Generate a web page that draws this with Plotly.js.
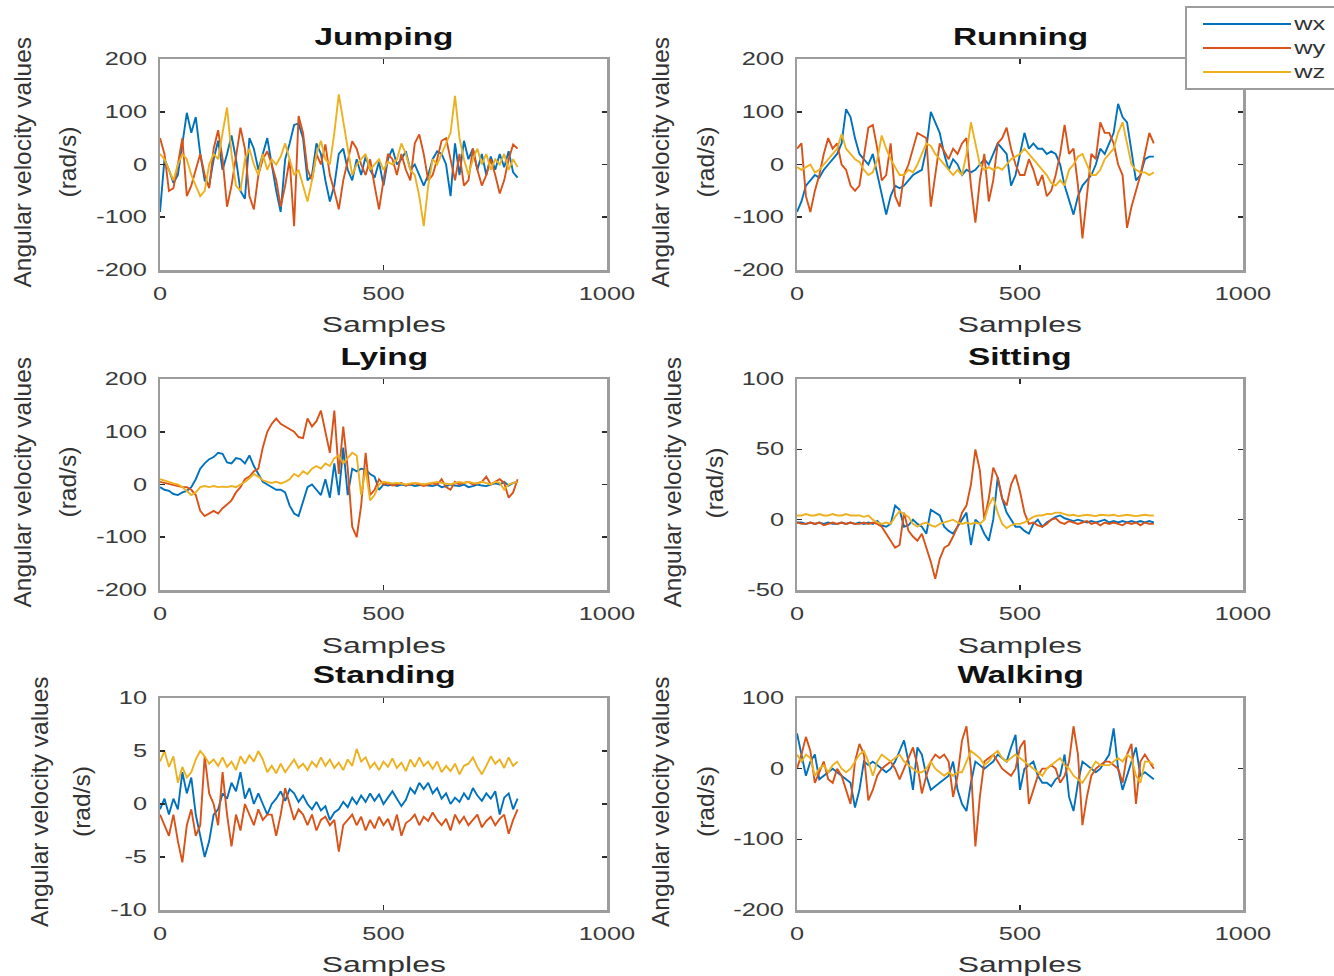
<!DOCTYPE html>
<html><head><meta charset="utf-8">
<script src="https://cdn.plot.ly/plotly-3.0.1.min.js"></script>
<style>html,body{margin:0;padding:0;background:#fff;}#chart{width:1334px;height:976px;}</style>
</head><body><div id="chart"></div>
<script>
// ---------------- data ----------------
const SAMPLES = [0,10,20,30,40,50,60,70,80,90,100,110,120,130,140,150,160,170,180,190,200,210,220,230,240,250,260,270,280,290,300,310,320,330,340,350,360,370,380,390,400,410,420,430,440,450,460,470,480,490,500,510,520,530,540,550,560,570,580,590,600,610,620,630,640,650,660,670,680,690,700,710,720,730,740,750,760,770,780,790,800];
const CHANNELS = ['wx','wy','wz'];
const ACTIVITIES = ['Jumping','Running','Lying','Sitting','Standing','Walking'];
const X_TICKS = [0,500,1000];
const Y_TICKS = {
  Jumping:[-200,-100,0,100,200], Running:[-200,-100,0,100,200], Lying:[-200,-100,0,100,200],
  Sitting:[-50,0,50,100], Standing:[-10,-5,0,5,10], Walking:[-200,-100,0,100]
};
const X_LABEL = 'Samples';
const Y_LABEL_1 = 'Angular velocity values';
const Y_LABEL_2 = '(rad/s)';

const jumping_wx = [-90,10,-10,-35,-20,40,98,60,90,20,-30,-40,10,45,-10,20,55,10,-50,-65,50,30,-10,20,50,0,-50,-90,10,40,75,78,50,-30,-20,40,20,-30,-70,-40,20,30,-10,-30,10,-20,15,-10,-25,5,-40,10,30,0,10,25,-10,0,-20,-40,-20,10,25,20,0,-60,40,-20,45,10,30,-10,20,-20,15,-10,20,-5,25,-15,-25];
const jumping_wy = [50,20,-50,-45,0,50,-60,-40,-10,20,-20,-45,30,65,10,-80,-40,20,70,30,-60,-85,-20,10,25,0,-30,-80,-40,10,-117,92,60,-10,-30,20,0,38,-20,-50,-85,-30,10,44,30,0,-20,10,-40,-85,-30,20,10,-20,20,-10,-30,40,57,20,-30,-20,10,45,50,10,-30,20,-40,-30,30,-10,-40,-20,10,-20,-55,-30,10,38,30];
const jumping_wz = [20,10,-10,-30,0,20,10,-20,-40,-60,-50,0,20,10,60,108,20,-40,-50,10,30,0,-20,20,-10,10,0,15,40,10,-20,-10,-40,-70,-30,20,45,10,0,60,133,82,30,-20,0,10,20,-10,0,10,-10,5,0,10,40,20,-10,-20,-60,-117,-40,10,0,20,40,60,130,50,10,-20,10,30,0,20,-10,10,0,20,-10,10,-5];

const running_wx = [-90,-70,-40,-30,-20,-25,-10,0,10,20,40,105,90,50,20,10,0,20,-20,-60,-95,-60,-40,-45,-40,-30,-20,-15,-10,30,100,80,60,20,-10,10,0,-20,-10,-15,-10,0,10,0,20,40,30,20,-40,-20,20,60,30,40,30,30,20,25,20,0,-40,-70,-95,-60,-40,-30,-20,0,30,20,40,60,115,90,80,20,-30,-20,10,15,15];
const running_wy = [30,40,-60,-90,-50,-20,20,50,30,40,0,-10,-40,-50,-40,20,70,75,30,-30,-20,40,-60,-80,-20,0,30,60,55,50,-80,-20,40,25,10,30,20,40,50,-40,-110,-30,20,-70,-30,40,50,70,30,0,-20,-20,10,-10,-40,-20,-60,-50,-20,20,75,20,30,-40,-140,-60,20,10,80,60,60,40,0,-20,-120,-80,-50,-20,20,60,40];
const running_wz = [-5,-10,-5,0,-15,-10,0,10,20,30,58,30,20,10,5,-10,-20,-15,10,55,30,10,-5,-20,-20,-10,-15,0,20,40,35,20,10,0,-10,-20,-10,-20,20,80,40,0,-10,-5,-10,-5,-10,0,10,15,20,30,20,10,0,-10,-20,-35,-40,-30,-40,-10,0,15,20,0,-20,-20,-10,10,20,30,60,80,40,0,-10,-15,-15,-20,-15];

const lying_wx = [-5,-10,-12,-18,-20,-15,-12,-5,10,30,40,48,52,60,58,42,40,50,48,40,55,35,20,5,0,-5,-10,-10,-15,-40,-55,-60,-30,-5,0,-10,-20,10,-25,40,-20,70,-20,30,25,30,28,20,15,-10,0,-2,0,-3,0,-2,0,-3,-2,0,-2,-3,0,-5,-3,0,-2,-3,0,-5,-3,0,-2,-3,0,2,0,5,-2,3,5];
const lying_wy = [5,3,2,0,-2,-5,-5,-10,-20,-50,-60,-55,-50,-55,-45,-38,-30,-15,-5,10,15,25,30,70,100,115,125,115,110,105,100,90,88,125,110,120,140,100,60,140,20,110,30,-80,-100,-40,60,-20,-10,10,0,2,-2,0,3,-2,0,2,0,-3,0,2,0,10,-5,-10,5,0,3,5,0,3,5,15,0,5,10,3,-25,-15,10];
const lying_wz = [10,8,5,2,0,-5,-12,-20,-15,-5,-3,-5,-3,-5,-4,-5,-3,-5,0,5,12,20,15,8,5,3,5,2,5,10,20,15,25,20,30,35,30,40,35,50,55,40,50,60,55,-20,30,-30,-20,0,5,3,2,3,2,0,2,3,2,0,2,3,5,3,2,0,3,5,3,5,3,2,5,3,0,5,3,-10,0,3,5];

const sitting_wx = [-2,-2,-3,-2,-3,-2,-3,-2,-3,-3,-2,-3,-2,-3,-2,-3,-2,-3,-1,-4,-5,-3,10,7,-5,-4,0,-3,-5,-10,7,5,3,-5,-8,-10,-5,0,5,-18,0,-3,-10,-15,0,30,15,5,0,-5,-5,-8,-10,-3,0,-5,-2,0,2,3,1,0,-1,0,-1,-2,-1,-2,-1,0,-2,-1,-2,-1,-2,-1,-2,-1,-2,-1,-2];
const sitting_wy = [-2,-3,-3,-2,-3,-2,-4,-3,-2,-3,-2,-3,-2,-3,-3,-2,-3,-2,-3,-5,-10,-15,-20,-18,5,-8,-12,-15,-10,-20,-30,-42,-28,-20,-18,-12,-5,5,10,25,50,35,0,15,37,30,15,10,25,32,20,5,-3,-2,-4,-5,-3,0,1,-2,-3,-1,-2,-3,-2,-1,-3,-2,-4,-2,-3,-2,-3,-4,-2,-3,-2,-4,-2,-3,-3];
const sitting_wz = [3,3,4,3,3,4,3,3,4,3,3,4,3,3,3,2,3,0,-2,-3,-2,-3,2,6,4,2,-3,-5,-3,-2,-4,-5,-3,-2,-1,0,-2,-3,-2,-3,-2,-3,0,10,16,5,-3,-6,-4,-3,-3,-2,0,2,3,3,4,4,5,5,4,3,3.5,2.5,3,3.5,3,2.5,3.5,3,3,3.5,2.5,3,3.5,3,2.5,3,3.5,3,3];

const standing_wx = [-0.5,0.5,-1,0.5,-0.5,3,1,2.5,-1,-3,-5,-3.5,-1,-0.5,1,0.5,2,1.2,3,0.5,1.5,0,1,0,-1,0,0.5,1.2,0.3,1.4,1,0.2,0.8,0,-0.5,0.2,-0.6,-0.2,-1.5,-0.8,-0.5,0.2,-0.3,0.6,0,0.8,0.2,1,0.3,0.9,0,0.6,1.2,0.5,-0.2,0.4,1.5,1,2,1.4,2,1,1.5,0.5,1,0,0.6,0.2,1,0.4,1.5,0.8,0.3,1,0.5,1.2,-1,0.6,1,-0.5,0.5];
const standing_wy = [-1,-2,-3,-1,-3.5,-5.5,-2,-0.5,-3,-2,4.5,1,0,-2,3,-1,-4,-1,-2.5,0,-1,-2,-0.5,-1.5,-1,-1,-3,-1,1.5,0,-1.5,-0.5,-1,-2,-1,-2.5,-1.5,-1.2,-2,-1.5,-4.5,-2,-1.5,-1,-2,-1.2,-2.5,-1.5,-2.3,-1.2,-2,-1.4,-2.5,-1,-3,-1.8,-1.5,-1,-2,-1.2,-1.6,-0.8,-1.5,-2,-1.4,-2.5,-1,-1.8,-1.2,-2,-1.5,-1,-2.2,-1.6,-1.2,-2,-1.4,-1,-2.8,-1.5,-0.5];
const standing_wz = [4,5,3.5,4.5,2,3.5,2.5,3,4.2,5,4.5,3.8,4.2,3.6,4.4,3.5,4,3.2,4.5,3.8,4.6,4,5,4.2,3,3.6,2.9,3.8,3,3.6,4.2,3.4,3.8,3.2,4,3.5,4.4,3.6,4.2,3.4,3.9,3.2,4.2,3.6,5.2,4,4.4,3.4,3.9,3.2,4,3.5,4.3,3.4,3.9,3.1,4.2,3.5,4.4,3.6,4,3.3,4,3,3.6,3.1,3.8,2.8,3.6,3.8,4.4,3.5,2.8,3.6,4.5,3.8,4.2,3.4,4.4,3.6,4];

const walking_wx = [50,20,-10,10,20,-15,-10,-5,0,-5,-10,-15,-20,-55,-30,10,5,10,5,0,-5,0,10,25,40,10,-30,30,20,-10,-30,-25,-20,-15,-10,10,-30,-50,-60,-20,10,5,0,5,10,20,15,10,30,48,-30,0,5,10,-10,-20,-20,-25,-15,-10,20,-40,-60,-20,10,5,0,-5,0,10,20,57,0,-30,-10,10,30,-10,-5,-10,-15];
const walking_wy = [0,20,45,25,-20,-5,10,-15,-20,0,-10,-30,-50,10,35,20,-45,-30,-10,0,5,10,0,-15,0,15,30,5,-35,-10,10,20,15,20,10,-40,-10,40,60,0,-110,-40,10,15,20,10,0,-5,-10,0,30,40,-50,-30,-10,0,0,5,0,-20,-10,10,60,20,-80,-40,-10,0,5,10,10,5,0,-20,20,35,-50,10,20,10,0];
const walking_wz = [20,10,20,15,-10,0,5,-5,5,10,0,-5,0,10,20,25,10,-10,10,20,15,10,15,20,10,5,0,-5,-5,0,10,0,-5,-10,-5,-10,-5,-5,10,25,20,15,5,10,20,25,15,10,15,20,15,10,5,0,-5,-10,0,5,10,15,5,0,-10,-15,-20,-10,0,10,5,5,5,10,15,10,20,15,-10,-20,10,10,5];

const SERIES = {
  Jumping:[jumping_wx,jumping_wy,jumping_wz],
  Running:[running_wx,running_wy,running_wz],
  Lying:[lying_wx,lying_wy,lying_wz],
  Sitting:[sitting_wx,sitting_wy,sitting_wz],
  Standing:[standing_wx,standing_wy,standing_wz],
  Walking:[walking_wx,walking_wy,walking_wz]
};

// ---------------- layout / style ----------------
const W = 1334, H = 976;
const COLORS = ['#0072BD','#D95319','#EDB120'];
const COL_PX = [[160,607],[797,1243]];
const ROW_PX = [[59,270],[379,590],[698,910]];
const TITLE_Y = [37,357,675];
const XLAB_Y = [325,645,964];
const YLAB_X = [[22,67],[660,705],[22,67],[672,714],[39,81],[660,705]];
const FONT = 'Liberation Sans, Arial, sans-serif';
const fx = p => p / W, fy = p => 1 - p / H;

const data = [];
const layout = {
  width: W, height: H, margin:{l:0,r:0,t:0,b:0},
  paper_bgcolor:'#fff', plot_bgcolor:'#fff', showlegend:false,
  annotations:[], shapes:[]
};

ACTIVITIES.forEach((act, k) => {
  const col = k % 2, row = Math.floor(k / 2);
  const sfx = k === 0 ? '' : String(k + 1);
  const yt = Y_TICKS[act];
  const axCommon = () => ({
    showline:true, mirror:'ticks', linecolor:'#9d9d9d', linewidth:2.5,
    ticks:'inside', ticklen:5, tickwidth:1.6, tickcolor:'#2b2b2b',
    showgrid:false, zeroline:false, fixedrange:true,
    tickfont:{family:FONT, size:17.5, color:'#3a3a3a'}
  });
  layout['xaxis' + sfx] = Object.assign(axCommon(), {
    domain:[fx(COL_PX[col][0]), fx(COL_PX[col][1])], anchor:'y' + sfx,
    range:[X_TICKS[0], X_TICKS[X_TICKS.length-1]], tickmode:'array',
    tickvals:X_TICKS, ticktext:X_TICKS.map(String), ticklabelstandoff:6
  });
  layout['yaxis' + sfx] = Object.assign(axCommon(), {
    domain:[fy(ROW_PX[row][1]), fy(ROW_PX[row][0])], anchor:'x' + sfx,
    range:[yt[0], yt[yt.length-1]], tickmode:'array',
    tickvals:yt, ticktext:yt.map(String), ticklabelstandoff:7
  });
  SERIES[act].forEach((vals, c) => {
    data.push({
      type:'scatter', mode:'lines', x:SAMPLES, y:vals, name:CHANNELS[c],
      xaxis:'x' + sfx, yaxis:'y' + sfx,
      line:{color:COLORS[c], width:1.9}, hoverinfo:'skip'
    });
  });
  const cx = (COL_PX[col][0] + COL_PX[col][1]) / 2;
  const cy = (ROW_PX[row][0] + ROW_PX[row][1]) / 2;
  layout.annotations.push({
    text:act, xref:'paper', yref:'paper', x:fx(cx), y:fy(TITLE_Y[row]),
    xanchor:'center', yanchor:'middle', showarrow:false,
    font:{family:FONT, size:23, weight:'bold', color:'#111'}
  });
  layout.annotations.push({
    text:X_LABEL, xref:'paper', yref:'paper', x:fx(cx), y:fy(XLAB_Y[row]),
    xanchor:'center', yanchor:'middle', showarrow:false,
    font:{family:FONT, size:22, color:'#333'}
  });
  layout.annotations.push({
    text:Y_LABEL_1, xref:'paper', yref:'paper', x:fx(YLAB_X[k][0]), y:fy(cy - 2),
    xanchor:'center', yanchor:'middle', showarrow:false, textangle:-90,
    font:{family:FONT, size:24.5, color:'#333'}
  });
  layout.annotations.push({
    text:Y_LABEL_2, xref:'paper', yref:'paper', x:fx(YLAB_X[k][1]), y:fy(cy - 2),
    xanchor:'center', yanchor:'middle', showarrow:false, textangle:-90,
    font:{family:FONT, size:24.5, color:'#333'}
  });
});

// legend box (top right, over Running axes corner)
const LEG = {left:1186, top:7, bottom:89, lineX:[1203,1291], textX:1296, rows:[24,48,72]};
layout.shapes.push({type:'rect', xref:'paper', yref:'paper', layer:'above',
  x0:fx(LEG.left), x1:fx(W + 20), y0:fy(LEG.bottom), y1:fy(LEG.top),
  fillcolor:'#fff', line:{color:'#9d9d9d', width:2}});
CHANNELS.forEach((ch, c) => {
  layout.shapes.push({type:'line', xref:'paper', yref:'paper', layer:'above',
    x0:fx(LEG.lineX[0]), x1:fx(LEG.lineX[1]), y0:fy(LEG.rows[c]), y1:fy(LEG.rows[c]),
    line:{color:COLORS[c], width:2}});
  layout.annotations.push({
    text:ch, xref:'paper', yref:'paper', x:fx(LEG.textX), y:fy(LEG.rows[c]),
    xanchor:'left', yanchor:'middle', showarrow:false,
    font:{family:FONT, size:17.5, color:'#333'}
  });
});

// the reference's glyphs are horizontally stretched; widen horizontal texts
const K = 1.45;
function stretch(gd) {
  gd.querySelectorAll('.xaxislayer-above text, .yaxislayer-above text, text.annotation-text').forEach(t => {
    const s = t.textContent;
    if (s === Y_LABEL_1 || s === Y_LABEL_2) return;
    if (t.getAttribute('data-stretched') === '1') return;
    const L = t.getComputedTextLength();
    if (L > 0) {
      t.setAttribute('textLength', (L * K).toFixed(1));
      t.setAttribute('lengthAdjust', 'spacingAndGlyphs');
      t.setAttribute('data-stretched', '1');
    }
  });
}

Plotly.newPlot('chart', data, layout, {staticPlot:true, displayModeBar:false}).then(gd => {
  stretch(gd);
  gd.on && gd.on('plotly_afterplot', () => stretch(gd));
  [0, 50, 200, 600, 1200].forEach(ms => setTimeout(() => stretch(gd), ms));
});
</script>
</body></html>
